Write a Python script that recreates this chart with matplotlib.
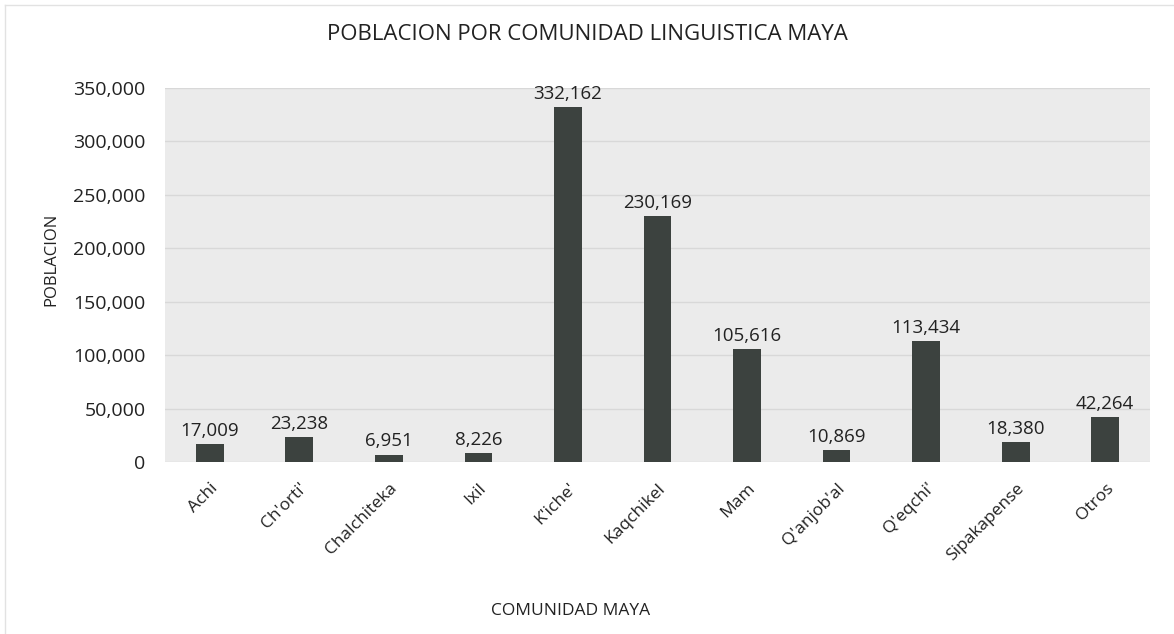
import matplotlib.pyplot as plt
from matplotlib.lines import Line2D
from matplotlib.ticker import FuncFormatter

comunidades = ["Achi", "Ch'orti'", "Chalchiteka", "Ixil", "K'iche'", "Kaqchikel",
               "Mam", "Q'anjob'al", "Q'eqchi'", "Sipakapense", "Otros"]
poblacion = [17009, 23238, 6951, 8226, 332162, 230169, 105616, 10869, 113434, 18380, 42264]
y_ticks = [0, 50000, 100000, 150000, 200000, 250000, 300000, 350000]

plt.rcParams['font.family'] = ['Open Sans', 'DejaVu Sans']
txt = '#222222'

W, H = 1174, 634
fig = plt.figure(figsize=(W / 100, H / 100), dpi=100)
fig.patch.set_facecolor('white')
# plot area in pixels: x 165..1150, y 88..462
ax = fig.add_axes([165 / W, 1 - 462 / H, 985 / W, 374 / H])
ax.set_facecolor('#ebebeb')

x = range(len(comunidades))
bars = ax.bar(x, poblacion, width=0.31, color='#3c423f', zorder=3)

for b, v in zip(bars, poblacion):
    ax.annotate(f'{v:,}', (b.get_x() + b.get_width() / 2, v), xytext=(0, 3),
                textcoords='offset points', ha='center', va='bottom',
                fontsize=13.5, color=txt)

ax.set_ylim(0, 350000)
ax.set_xlim(-0.5, len(comunidades) - 0.5)
ax.set_yticks(y_ticks)
ax.yaxis.set_major_formatter(FuncFormatter(lambda v, p: f'{int(v):,}'))
ax.grid(axis='y', color='#d8d8d8', linewidth=1, zorder=0)
ax.set_xticks(list(x))
ax.set_xticklabels(comunidades, rotation=45, ha='right', rotation_mode='anchor')
ax.tick_params(axis='both', length=0, colors=txt)
ax.tick_params(axis='x', labelsize=12.5, pad=13)
ax.tick_params(axis='y', labelsize=14, pad=14)
for s in ax.spines.values():
    s.set_visible(False)

fig.text(0.5, 1 - 35 / H, 'POBLACION POR COMUNIDAD LINGUISTICA MAYA',
         ha='center', va='center', fontsize=16, color=txt)
fig.text(51 / W, 1 - 259 / H, 'POBLACION', rotation=90, ha='center', va='center',
         fontsize=12, color=txt)
fig.text(571 / W, 1 - 611 / H, 'COMUNIDAD MAYA', ha='center', va='center',
         fontsize=12.5, color=txt)

# faint chart border from the scan
fig.add_artist(Line2D([5 / W, 1], [1 - 5 / H, 1 - 5 / H], transform=fig.transFigure,
                      color='#e2e2e2', linewidth=1))
fig.add_artist(Line2D([5 / W, 5 / W], [0, 1 - 5 / H], transform=fig.transFigure,
                      color='#e2e2e2', linewidth=1))

fig.savefig('out.png', dpi=100)
